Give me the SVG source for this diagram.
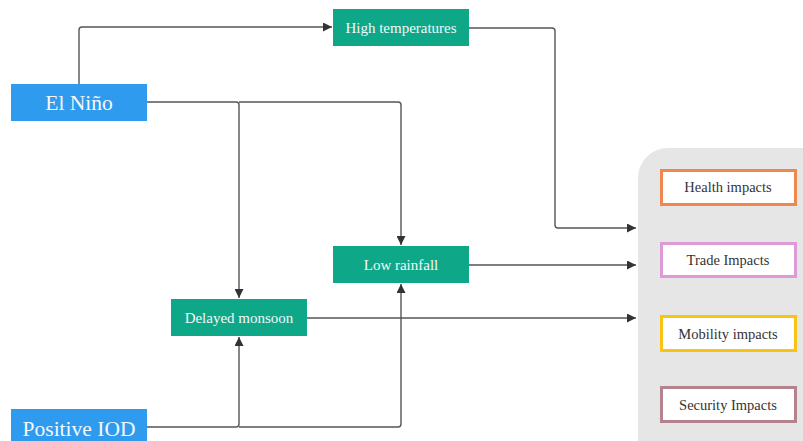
<svg xmlns="http://www.w3.org/2000/svg" width="803" height="441" viewBox="0 0 803 441">
<defs>
<marker id="ah" viewBox="0 0 10 10" refX="10" refY="5" markerWidth="9" markerHeight="9" markerUnits="userSpaceOnUse" orient="auto">
<path d="M0,0 L10,5 L0,10 z" fill="#333"/>
</marker>
<style>
.src{fill:#2e9bef}
.mid{fill:#0ea888}
.st{font-family:"Liberation Serif","DejaVu Serif",serif;fill:#f4f7fa;text-anchor:middle}
.big{font-size:21.5px}
.sm{font-size:15px}
.out{fill:#ffffff;stroke-width:3}
.ot{font-family:"Liberation Serif","DejaVu Serif",serif;font-size:14.5px;fill:#333;text-anchor:middle}
.c{fill:none;stroke:#555;stroke-width:1.4}
</style>
</defs>
<rect x="638" y="148" width="200" height="320" rx="30" fill="#e6e6e6"/>
<g id="connectors">
<path class="c" d="M79,84 V30 Q79,27 82,27 H332" marker-end="url(#ah)"/>
<path class="c" d="M147,102 H236 Q239,102 239,105 V298" marker-end="url(#ah)"/>
<path class="c" d="M239,102 H398 Q401,102 401,105 V245" marker-end="url(#ah)"/>
<path class="c" d="M469,28 H552 Q555,28 555,31 V225 Q555,228 558,228 H636" marker-end="url(#ah)"/>
<path class="c" d="M469,265 H636" marker-end="url(#ah)"/>
<path class="c" d="M307,318 H636" marker-end="url(#ah)"/>
<path class="c" d="M147,427 H236 Q239,427 239,424 V337" marker-end="url(#ah)"/>
<path class="c" d="M239,427 H398 Q401,427 401,424 V284" marker-end="url(#ah)"/>
</g>
<g id="elnino"><rect class="src" x="11" y="84" width="136" height="37"/><text class="st big" x="79" y="110">El Niño</text></g>
<g id="positive-iod"><rect class="src" x="11" y="409" width="136" height="37"/><text class="st big" x="79" y="436">Positive IOD</text></g>
<g id="high-temperatures"><rect class="mid" x="333" y="9" width="136" height="37"/><text class="st sm" x="401" y="32.5">High temperatures</text></g>
<g id="low-rainfall"><rect class="mid" x="333" y="246" width="136" height="37"/><text class="st sm" x="401" y="269.5">Low rainfall</text></g>
<g id="delayed-monsoon"><rect class="mid" x="171" y="299" width="136" height="37"/><text class="st sm" x="239" y="322.5">Delayed monsoon</text></g>
<g id="health"><rect class="out" x="661.5" y="170.5" width="134" height="34" stroke="#f0874f"/><text class="ot" x="728" y="192">Health impacts</text></g>
<g id="trade"><rect class="out" x="661.5" y="243.5" width="134" height="33" stroke="#dd9ad6"/><text class="ot" x="728" y="265">Trade Impacts</text></g>
<g id="mobility"><rect class="out" x="661.5" y="316.5" width="134" height="34" stroke="#f7c315"/><text class="ot" x="728" y="339">Mobility impacts</text></g>
<g id="security"><rect class="out" x="661.5" y="387.5" width="134" height="34" stroke="#b5838e"/><text class="ot" x="728" y="410">Security Impacts</text></g>
</svg>
